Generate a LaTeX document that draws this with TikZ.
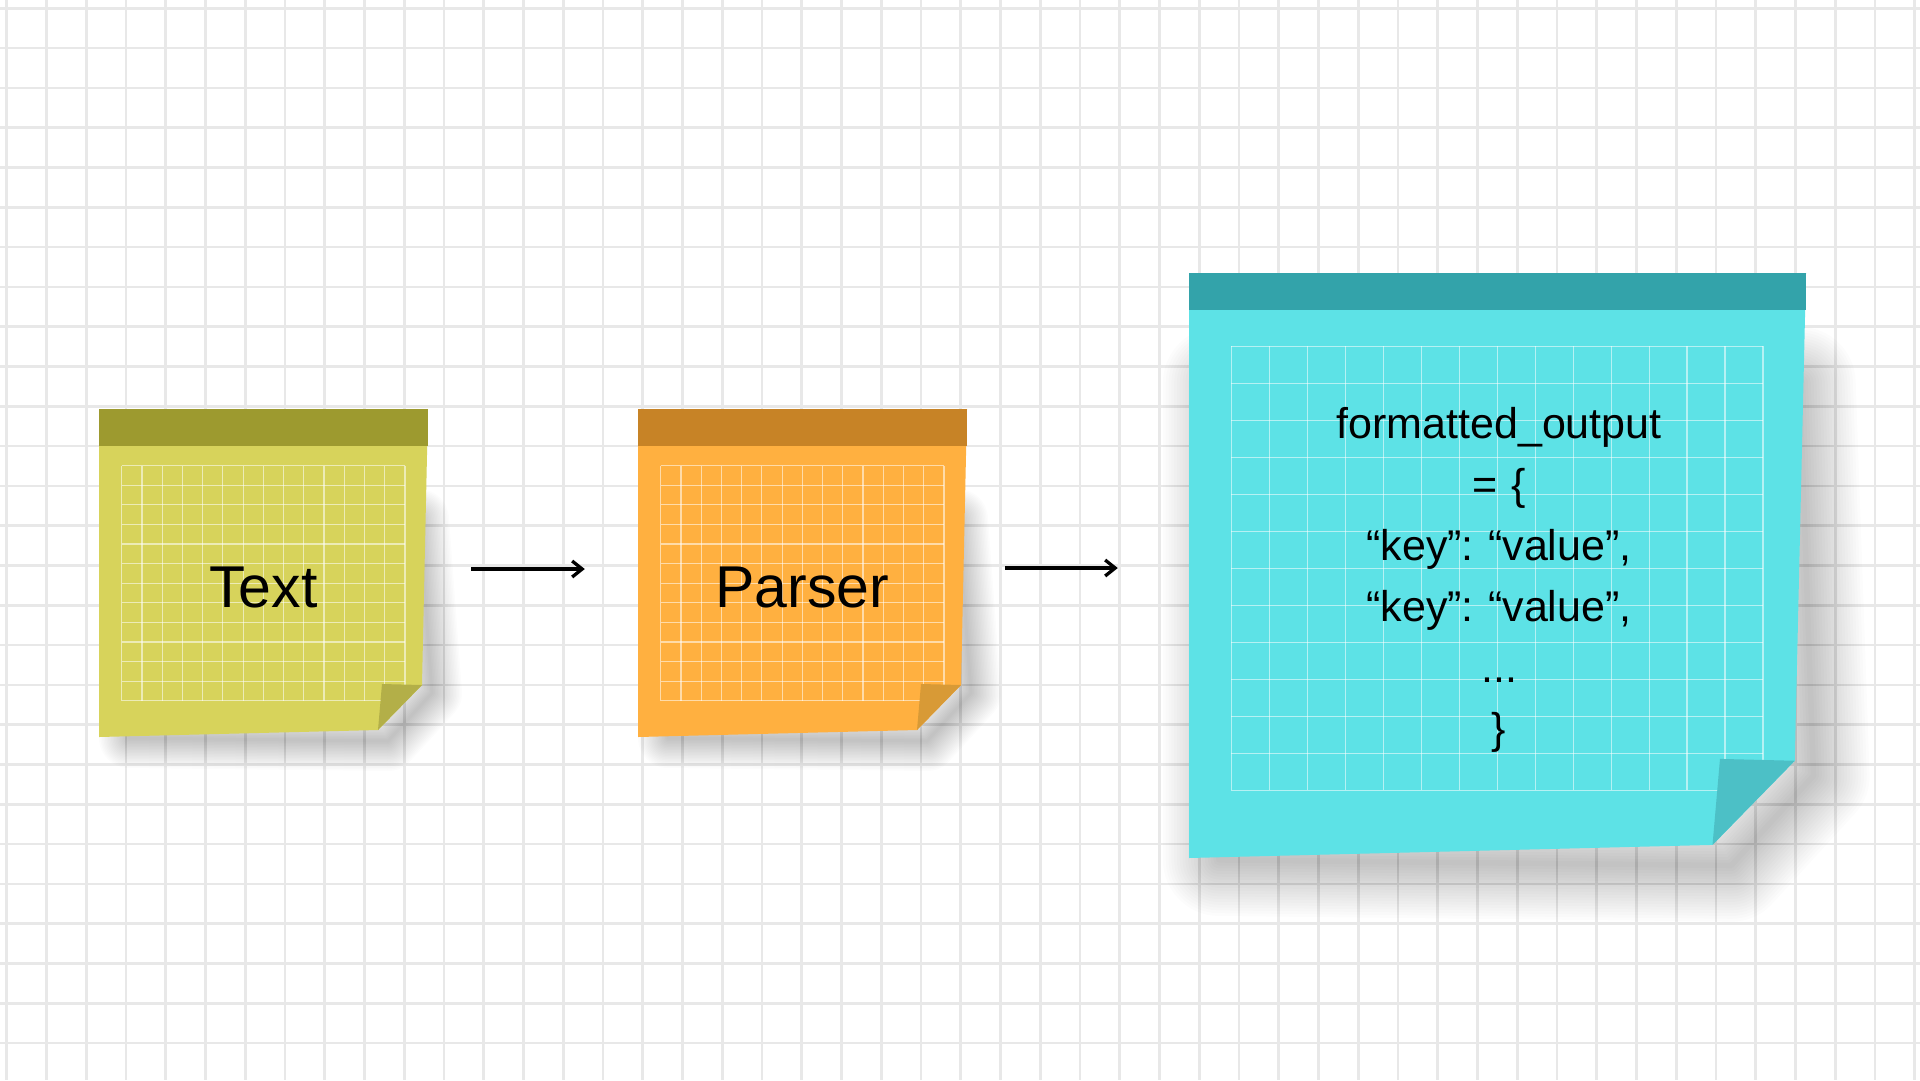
\documentclass[tikz,border=0pt]{standalone}
\usepackage{fontspec}
\setmainfont{Liberation Sans}
\usetikzlibrary{arrows.meta}

\definecolor{yellowbody}{HTML}{D7D35B}
\definecolor{yellowhead}{HTML}{9D9A2F}
\definecolor{yellowfold}{HTML}{B3AF48}
\definecolor{orangebody}{HTML}{FFB040}
\definecolor{orangehead}{HTML}{C78326}
\definecolor{orangefold}{HTML}{D89A36}
\definecolor{cyanbody}{HTML}{5DE2E6}
\definecolor{cyanhead}{HTML}{33A3AA}
\definecolor{cyanfold}{HTML}{4CC0C6}
\definecolor{paperline}{HTML}{E8E8E8}

\tikzset{
    bgline/.style={draw=paperline, line width=2.6pt},
    noteshade/.style={draw=black, draw opacity=0.012, line join=round},
    notegrid/.style={draw=white, draw opacity=0.55, line width=1.2pt},
    notelabel/.style={inner sep=0pt, align=center, font=\fontsize{59}{61}\selectfont},
    flow/.style={line width=3.3pt, -{Straight Barb[length=10pt,width=16pt]}}
}

% left, top, right, bottom, scale, colour
\newcommand{\stickynote}[6]{
    \pgfmathsetmacro{\notegl}{#1+22.7*#5}
    \pgfmathsetmacro{\notegr}{#3-23*#5}
    \pgfmathsetmacro{\notegt}{#2+37+19.5*#5}
    \pgfmathsetmacro{\notegb}{#4-36.3*#5}
    % soft shadow under the lifted corner
    \foreach \w in {3,6,...,60}
        \draw[noteshade, line width=\w*#5 pt]
            ({#1+30},{#2+110}) -- ({#3-12+3*#5},{#2+110}) -- ({#3+4*#5},{#4-44*#5})
            -- ({#3-40*#5},{#4+4*#5}) -- ({#1+30},{#4+1*#5}) -- cycle;
    \fill[#6body] (#1,#2) -- (#3,#2) -- ({#3-6*#5},{#4-52*#5})
        -- ({#3-50*#5},{#4-7*#5}) -- (#1,#4) -- cycle;
    \foreach \i in {0,...,14}
        \draw[notegrid] ({\notegl+(\notegr-\notegl)*\i/14},\notegt) -- ({\notegl+(\notegr-\notegl)*\i/14},\notegb);
    \foreach \j in {0,...,12}
        \draw[notegrid] (\notegl,{\notegt+(\notegb-\notegt)*\j/12}) -- (\notegr,{\notegt+(\notegb-\notegt)*\j/12});
    \fill[#6fold] ({#3-6*#5},{#4-52*#5}) -- ({#3-46*#5},{#4-53*#5}) -- ({#3-50*#5},{#4-7*#5}) -- cycle;
    \fill[#6head] (#1,#2) rectangle (#3,{#2+37});
}

\begin{document}
\frenchspacing
\begin{tikzpicture}[x=1pt, y=-1pt]
    \useasboundingbox (0,0) rectangle (1920,1080);
    \clip (0,0) rectangle (1920,1080);
    \fill[white] (0,0) rectangle (1920,1080);
    % squared paper
    \foreach \k in {0,...,48}
        \draw[bgline] ({6.7+39.75*\k},0) -- ({6.7+39.75*\k},1080);
    \foreach \k in {0,...,27}
        \draw[bgline] (0,{8.3+39.8*\k}) -- (1920,{8.3+39.8*\k});

    % notes
    \stickynote{99}{409}{428}{737}{1}{yellow}
    \stickynote{638}{409}{967}{737}{1}{orange}
    \stickynote{1189}{273}{1806}{858}{1.87}{cyan}

    \node[notelabel, text width=329pt] (textnote) at (263.5,587) {Text};
    \node[notelabel, text width=329pt] (parsernote) at (802.5,587) {Parser};
    \node[notelabel, text width=620pt, anchor=north,
        font=\fontsize{43}{61}\selectfont] (outputnote) at (1499,407)
        {formatted\_output\\= \{\\“key”: “value”,\\“key”: “value”,\\...\\\}};

    \draw[flow, shorten <=43pt, shorten >=53pt]
        ([yshift=18pt]textnote.east) -- ([yshift=18pt]parsernote.west);
    \draw[flow, shorten <=38pt, shorten >=71pt]
        ([yshift=19pt]parsernote.east) -- ([yshift=19pt]parsernote.east -| outputnote.west);
\end{tikzpicture}
\end{document}
